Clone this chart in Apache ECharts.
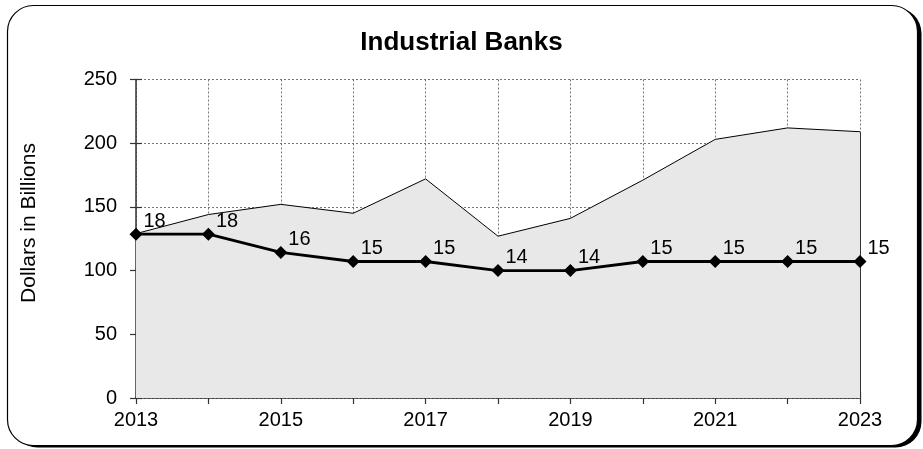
<!DOCTYPE html>
<html>
<head>
<meta charset="utf-8">
<script src="https://cdn.jsdelivr.net/npm/echarts@6/dist/echarts.min.js"></script>
<style>
html,body{margin:0;padding:0;background:#fff;}
#c{width:923px;height:449px;}
</style>
</head>
<body>
<div id="c"></div>
<script>
var years = ['2013','2014','2015','2016','2017','2018','2019','2020','2021','2022','2023'];
var assets = [129, 144, 152, 145, 172, 127, 141, 171, 203, 212, 209];
var institutions = [18, 18, 16, 15, 15, 14, 14, 15, 15, 15, 15];
var yTicks = { min: 0, max: 250, interval: 50 };
var countAxis = { min: 0, max: 35, interval: 5 };

var FONT = '"Liberation Sans", Arial, sans-serif';
var chart = echarts.init(document.getElementById('c'), null, { renderer: 'canvas' });

var option = {
  animation: false,
  backgroundColor: '#fff',
  title: {
    text: 'Industrial Banks',
    left: 'center',
    top: 25,
    textStyle: { fontFamily: FONT, fontSize: 26, fontWeight: 'bold', color: '#000' }
  },
  graphic: [
    { type: 'rect', z: -10, silent: true,
      shape: { x: 11.5, y: 7.5, width: 910, height: 440, r: 26 },
      style: { fill: '#000' } },
    { type: 'rect', z: -9, silent: true,
      shape: { x: 7.5, y: 5.5, width: 910, height: 440, r: 26 },
      style: { fill: '#fff', stroke: '#000', lineWidth: 1.2 } },
    { type: 'text', silent: true, x: 29, y: 223, rotation: Math.PI / 2,
      style: { text: 'Dollars in Billions', fontFamily: FONT, fontSize: 21, fill: '#000',
               align: 'center', verticalAlign: 'middle' } }
  ],
  grid: { left: 136, right: 63, top: 79.5, bottom: 51, containLabel: false },
  xAxis: [
    {
      type: 'category', data: years, boundaryGap: false,
      axisLine: { show: true, lineStyle: { color: '#333', width: 1.5 } },
      axisTick: { show: true, inside: false, length: 6, interval: 0, lineStyle: { color: '#333', width: 1.2 } },
      axisLabel: { interval: 1, margin: 12, fontFamily: FONT, fontSize: 20, color: '#000' },
      splitLine: { show: true, interval: 0, lineStyle: { color: '#777', type: [2, 2], width: 1 } }
    },
    {
      type: 'category', data: years, boundaryGap: false, position: 'bottom',
      axisLine: { show: false },
      axisTick: { show: true, inside: true, length: 6, interval: 0, lineStyle: { color: '#333', width: 1.2 } },
      axisLabel: { show: false },
      splitLine: { show: false }
    }
  ],
  yAxis: [
    {
      type: 'value', min: yTicks.min, max: yTicks.max, interval: yTicks.interval,
      axisLine: { show: true, lineStyle: { color: '#333', width: 1.5 } },
      axisTick: { show: true, inside: false, length: 6, lineStyle: { color: '#333', width: 1.2 } },
      axisLabel: { margin: 19, fontFamily: FONT, fontSize: 20, color: '#000' },
      splitLine: { show: true, lineStyle: { color: '#777', type: [2, 2], width: 1 } }
    },
    {
      type: 'value', min: countAxis.min, max: countAxis.max, interval: countAxis.interval,
      show: false, splitLine: { show: false }
    },
    {
      type: 'value', min: yTicks.min, max: yTicks.max, interval: yTicks.interval, position: 'left',
      axisLine: { show: false },
      axisTick: { show: true, inside: true, length: 6, lineStyle: { color: '#333', width: 1.2 } },
      axisLabel: { show: false },
      splitLine: { show: false }
    }
  ],
  series: [
    {
      type: 'line', name: 'Assets', data: assets, xAxisIndex: 0, yAxisIndex: 0,
      symbol: 'none', z: 2,
      lineStyle: { color: '#000', width: 1 },
      areaStyle: { color: '#e8e8e8', opacity: 1 },
      markLine: {
        silent: true, symbol: ['none', 'none'], label: { show: false },
        lineStyle: { color: '#333', width: 1, type: 'solid' },
        data: [[{ coord: [years[years.length - 1], 0] }, { coord: [years[years.length - 1], assets[assets.length - 1]] }]]
      }
    },
    {
      type: 'line', name: 'Institutions', data: institutions, xAxisIndex: 0, yAxisIndex: 1,
      symbol: 'diamond', symbolSize: 13, z: 5,
      itemStyle: { color: '#000' },
      lineStyle: { color: '#000', width: 2.8 },
      label: { show: true, position: 'right', distance: 1, offset: [0, -13],
               fontFamily: FONT, fontSize: 20, color: '#000' }
    }
  ]
};
chart.setOption(option);
</script>
</body>
</html>
